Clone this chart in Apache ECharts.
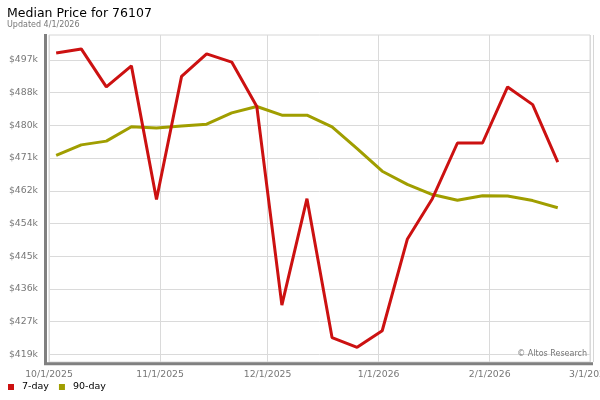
<!DOCTYPE html>
<html><head><meta charset="utf-8">
<script src="https://cdn.jsdelivr.net/npm/echarts@6/dist/echarts.min.js"></script>
<style>html,body{margin:0;padding:0;background:#fff}#c{width:600px;height:400px}</style>
</head><body><div id="c"></div>
<script>
// Weekly dates
const dates = ['2025-10-03','2025-10-10','2025-10-17','2025-10-24','2025-10-31','2025-11-07','2025-11-14',
  '2025-11-21','2025-11-28','2025-12-05','2025-12-12','2025-12-19','2025-12-26','2026-01-02',
  '2026-01-09','2026-01-16','2026-01-23','2026-01-30','2026-02-06','2026-02-13','2026-02-20'];
// Median price, $k
const sevenDay = [498.8, 499.9, 489.8, 495.4, 459.9, 492.6, 498.6, 496.4, 484.6, 431.8, 460.1,
  423.2, 420.6, 425.0, 449.3, 460.1, 474.9, 474.9, 489.8, 485.1, 469.8];
const ninetyDay = [471.6, 474.4, 475.4, 479.2, 478.9, 479.4, 479.9, 482.9, 484.6, 482.3, 482.3,
  479.2, 473.4, 467.4, 463.9, 461.2, 459.7, 460.9, 460.8, 459.6, 457.7];
const seriesNames = ['7-day', '90-day'];
const yTicks = [418.7, 427.4, 436.1, 444.8, 453.5, 462.2, 470.9, 479.6, 488.3, 497.0];
const xTicks = ['2025-10-01','2025-11-01','2025-12-01','2026-01-01','2026-02-01','2026-03-01'];

function ts(s){ const p = s.split('-').map(Number); return Date.UTC(p[0], p[1]-1, p[2]); }
const xTickTs = xTicks.map(ts);
const font = 'DejaVu Sans';

const chart = echarts.init(document.getElementById('c'), null, {renderer:'canvas'});
chart.setOption({
  animation: false,
  backgroundColor: '#fff',
  textStyle: { fontFamily: font },
  grid: { left: 49, right: 10, top: 35, bottom: 38, show: true, borderColor: '#d6d6d6', borderWidth: 1,
          containLabel: false, outerBoundsMode: 'none' },
  legend: {
    left: 3, top: 377, icon: 'rect', itemWidth: 6, itemHeight: 6, itemGap: 10,
    textStyle: { fontFamily: font, fontSize: 9.5, color: '#000', padding: [0,0,0,3] },
    data: seriesNames
  },
  xAxis: {
    type: 'value',
    min: xTickTs[0], max: xTickTs[xTickTs.length-1],
    axisLine: { show: false },
    axisTick: { show: false, customValues: xTickTs },
    splitLine: { show: true, lineStyle: { color: '#dadada', width: 1 } },
    axisLabel: {
      customValues: xTickTs, margin: 8, fontFamily: font, fontSize: 9.3, color: '#777',
      hideOverlap: false, showMinLabel: true, showMaxLabel: true,
      formatter: function(v){ const d = new Date(v); return (d.getUTCMonth()+1)+'/'+d.getUTCDate()+'/'+d.getUTCFullYear(); }
    }
  },
  yAxis: {
    type: 'value', min: 416.7, max: 503.6,
    axisLine: { show: false },
    axisTick: { show: false, customValues: yTicks },
    splitLine: { show: true, lineStyle: { color: '#dadada', width: 1 } },
    axisLabel: {
      customValues: yTicks, margin: 11, fontFamily: font, fontSize: 9.3, color: '#777',
      formatter: function(v){ return '$' + Math.round(v) + 'k'; }
    }
  },
  graphic: [
    { type: 'text', left: 7, top: 7, style: { text: 'Median Price for 76107', font: '12.5px "DejaVu Sans"', fill: '#000' } },
    { type: 'text', left: 7, top: 21, style: { text: 'Updated 4/1/2026', font: '8px "DejaVu Sans"', fill: '#777' } },
    { type: 'polyline', shape: { points: [[45.5, 34], [45.5, 363.7], [593, 363.7]] }, style: { stroke: '#808080', lineWidth: 3, fill: null }, z: 10 },
    { type: 'line', shape: { x1: 593.5, y1: 35, x2: 593.5, y2: 362 }, style: { stroke: '#d6d6d6', lineWidth: 1 } },
    { type: 'text', right: 13, top: 350, style: { text: '\u00a9 Altos Research', font: '8px "DejaVu Sans"', fill: '#777' }, z: 10 }
  ],
  series: [
    { name: seriesNames[0], type: 'line', showSymbol: false, symbol: 'none', color: '#cc1111', z: 4,
      lineStyle: { width: 3, color: '#cc1111' },
      data: dates.map((d,i) => [ts(d), sevenDay[i]]) },
    { name: seriesNames[1], type: 'line', showSymbol: false, symbol: 'none', color: '#a09e00', z: 3,
      lineStyle: { width: 3, color: '#a09e00' },
      data: dates.map((d,i) => [ts(d), ninetyDay[i]]) }
  ]
});
</script></body></html>
